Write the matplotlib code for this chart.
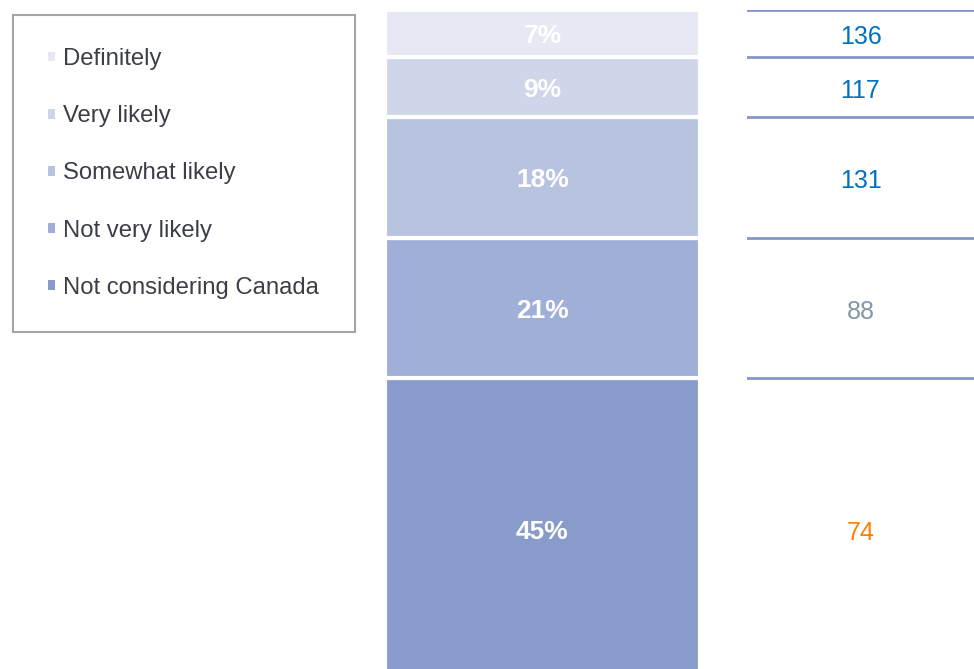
import numpy as np
import matplotlib.pyplot as plt
from matplotlib.patches import Patch, Rectangle

plt.rcParams['font.family'] = ['Liberation Sans', 'DejaVu Sans']

# data, top of the stack first
categories = ['Definitely', 'Very likely', 'Somewhat likely',
              'Not very likely', 'Not considering Canada']
shares = [7, 9, 18, 21, 45]
index_values = [136, 117, 131, 88, 74]
seg_colors = ['#E6E9F4', '#D0D6EA', '#B8C3E0', '#A0AFD7', '#889BCB']

W, H = 974, 669


def fig_box(left, top, right, bottom):
    # pixel box (from top-left) -> figure fraction rect
    return [left / W, 1 - bottom / H, (right - left) / W, (bottom - top) / H]


def index_color(v):
    if v >= 100:
        return '#0070C0'
    if v >= 80:
        return '#8497A8'
    return '#FF8000'


fig = plt.figure(figsize=(W / 100, H / 100), dpi=100)

# stacked bar, drawn bottom-up
ax = fig.add_axes(fig_box(385, 10, 700, 680))
order = list(range(len(shares)))[::-1]
bottom = 0
mids = {}
tops = []
for i in order:
    ax.bar(0, shares[i], bottom=bottom, width=1.0, color=seg_colors[i],
           edgecolor='white', linewidth=3)
    mids[i] = bottom + shares[i] / 2
    ax.text(0, mids[i], f'{shares[i]}%', ha='center', va='center_baseline',
            color='white', fontsize=19, fontweight='bold')
    bottom += shares[i]
    tops.append(bottom)
ax.set_xlim(-0.5, 0.5)
ax.set_ylim(0, 100)
ax.axis('off')

# index column on the right
ax2 = fig.add_axes(fig_box(747, 10, 974, 680))
ax2.set_xlim(0, 1)
ax2.set_ylim(0, 100)
for t in tops:
    ax2.axhline(t, color='#8497CB', linewidth=2)
for i in range(len(index_values)):
    ax2.text(0.5, mids[i] - 0.2, str(index_values[i]), ha='center', va='center_baseline',
             fontsize=18, color=index_color(index_values[i]))
ax2.axis('off')

# legend box
fig.patches.append(Rectangle((13 / W, 1 - 332 / H), 342 / W, 317 / H,
                             transform=fig.transFigure, facecolor='white',
                             edgecolor='#A6A6A6', linewidth=1.5, zorder=0))
handles = [Patch(facecolor=seg_colors[i], edgecolor='none') for i in range(len(categories))]
leg = fig.legend(handles, categories, loc='upper left',
                 bbox_to_anchor=(15 / W, 1 - 15 / H),
                 borderaxespad=0, frameon=False, fontsize=17.2,
                 handlelength=0.3, handleheight=0.25, handletextpad=0.33,
                 labelspacing=1.47, borderpad=1.39)
for txt in leg.get_texts():
    txt.set_color('#3A3F48')

fig.savefig('out.png', dpi=100)
